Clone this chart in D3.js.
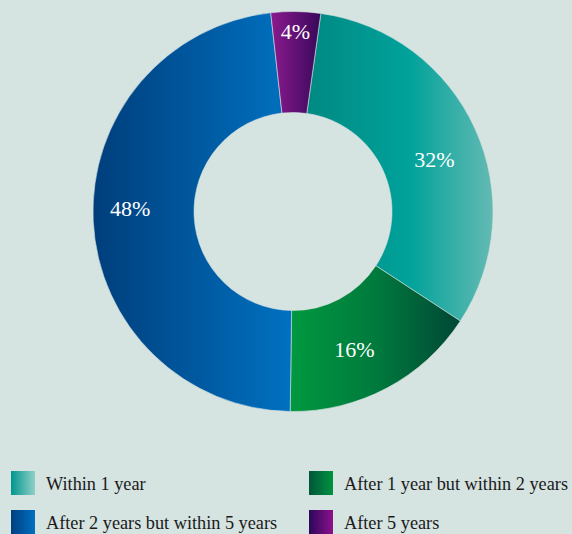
<!DOCTYPE html>
<html>
<head>
<meta charset="utf-8">
<script src="https://cdn.jsdelivr.net/npm/d3@7"></script>
<style>
  html, body { margin: 0; padding: 0; background: #d5e3e1; }
  svg { display: block; font-family: "Liberation Serif", "Times New Roman", serif; }
</style>
</head>
<body>
<svg id="chart"></svg>
<script>
// data
var categories = ['Within 1 year', 'After 1 year but within 2 years', 'After 2 years but within 5 years', 'After 5 years'];
var shares = [32, 16, 48, 4];

// gradient stops for the ring and for the legend swatches
var sliceStops = [
  [['0%', '#008983'], ['55%', '#00a29a'], ['100%', '#64bab3']],
  [['0%', '#00983f'], ['50%', '#007a3d'], ['100%', '#004735']],
  [['0%', '#003e7b'], ['100%', '#0071c1']],
  [['0%', '#8c1a8e'], ['100%', '#37085a']]
];
var swatchStops = [
  [['0%', '#00968d'], ['100%', '#90d0c8']],
  [['0%', '#00563a'], ['100%', '#00923f']],
  [['0%', '#003f80'], ['100%', '#0070c0']],
  [['0%', '#2a0858'], ['100%', '#8e108e']]
];

var width = 572,
	height = 534,
	cx = 293,
	cy = 211.5,
	outerR = 200,
	innerR = 99;

var svg = d3.select('#chart')
	.attr('width', width)
	.attr('height', height)
	.style('background', '#d5e3e1');

var defs = svg.append('defs');

function addGradient(id, stops){
	var g = defs.append('linearGradient')
		.attr('id', id)
		.attr('x1', '0%').attr('y1', '0%')
		.attr('x2', '100%').attr('y2', '0%');
	g.selectAll('stop').data(stops)
		.enter().append('stop')
		.attr('offset', function (s){ return s[0]; })
		.attr('stop-color', function (s){ return s[1]; });
}
sliceStops.forEach(function (s, i){ addGradient('slice' + i, s); });
swatchStops.forEach(function (s, i){ addGradient('swatch' + i, s); });

var pie = d3.pie()
	.sort(null)
	.value(function (d){ return d; })
	.startAngle(8 * Math.PI / 180)
	.endAngle(8 * Math.PI / 180 + 2 * Math.PI);

var arc = d3.arc()
	.innerRadius(innerR)
	.outerRadius(outerR);

var arcs = pie(shares);

var ring = svg.append('g')
	.attr('transform', 'translate(' + cx + ',' + cy + ')');

ring.selectAll('path').data(arcs)
	.enter().append('path')
		.attr('d', arc)
		.style('fill', function (d, i){ return 'url(#slice' + i + ')'; })
		.style('stroke', '#d5e3e1')
		.style('stroke-width', 0.6);

// labels: narrow slices are pushed out toward the rim,
// the wide ones sit a little clockwise of the middle
ring.selectAll('text').data(arcs)
	.enter().append('text')
		.attr('transform', function (d){
			var span = d.endAngle - d.startAngle;
			var narrow = span < 0.4;
			var r = narrow ? 180 : (d.value > 40 ? 163 : 151);
			var a = (d.startAngle + d.endAngle) / 2 + (narrow ? 0 : 4 * Math.PI / 180);
			return 'translate(' + (r * Math.sin(a)) + ',' + (-r * Math.cos(a)) + ')';
		})
		.attr('text-anchor', 'middle')
		.attr('dy', '0.35em')
		.style('fill', '#ffffff')
		.style('font-size', '22px')
		.text(function (d){ return d.value + '%'; });

// legend, two columns
var legend = svg.append('g');
var item = legend.selectAll('g').data(categories)
	.enter().append('g')
		.attr('transform', function (d, i){
			var x = (i % 2) ? 309 : 11;
			var y = Math.floor(i / 2) ? 510 : 471;
			return 'translate(' + x + ',' + y + ')';
		});

item.append('rect')
	.attr('width', 24)
	.attr('height', 24)
	.style('fill', function (d, i){ return 'url(#swatch' + i + ')'; });

item.append('text')
	.attr('x', 35)
	.attr('y', 19)
	.style('fill', '#1a1a1a')
	.style('font-size', '18.25px')
	.text(function (d){ return d; });
</script>
</body>
</html>
